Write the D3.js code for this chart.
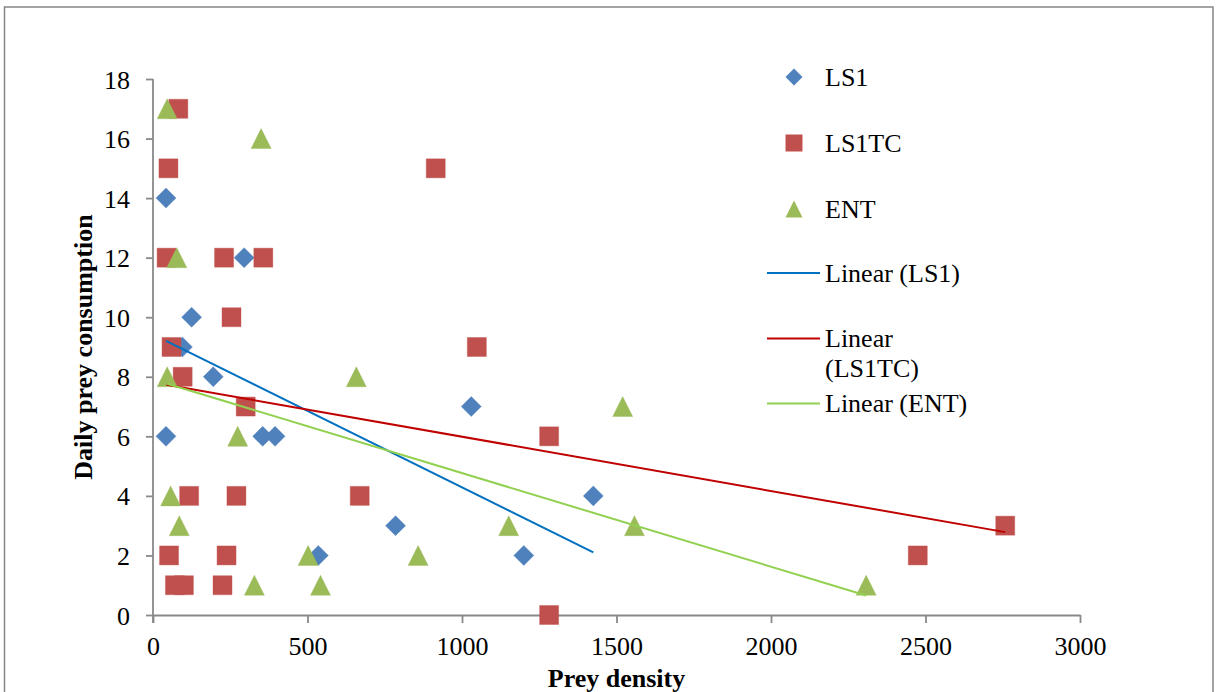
<!DOCTYPE html>
<html><head><meta charset="utf-8">
<script src="https://cdn.jsdelivr.net/npm/d3@7"></script>
<style>
html,body{margin:0;padding:0;background:#fff;}
svg{display:block;}
svg text{font-family:"Liberation Serif","Times New Roman",serif !important;fill:#000;}
</style></head>
<body>
<svg id="chart" width="1219" height="692"></svg>
<script>
// ---- data ----
const seriesNames = ["LS1", "LS1TC", "ENT"];
const ls1X = [42, 42, 125, 95, 195, 295, 355, 395, 535, 785, 1030, 1200, 1425];
const ls1Y = [14, 6, 10, 9, 8, 12, 6, 6, 2, 3, 7, 2, 4];
const ls1tcX = [82, 50, 44, 230, 357, 254, 60, 915, 1048, 96, 300, 117, 270, 52, 238, 71, 100, 225, 669, 1282, 1282, 2475, 2758];
const ls1tcY = [17, 15, 12, 12, 12, 10, 9, 15, 9, 8, 7, 4, 4, 2, 2, 1, 1, 1, 4, 6, 0, 2, 3];
const entX = [46, 350, 77, 46, 274, 57, 85, 328, 658, 502, 542, 858, 1151, 1520, 1558, 2308];
const entY = [17, 16, 12, 8, 6, 4, 3, 1, 8, 2, 1, 2, 3, 7, 3, 1];
const xTicks = [0, 500, 1000, 1500, 2000, 2500, 3000];
const yTicks = [0, 2, 4, 6, 8, 10, 12, 14, 16, 18];
const legendLabels = ["LS1", "LS1TC", "ENT", "Linear (LS1)", ["Linear", "(LS1TC)"], "Linear (ENT)"];

const markerColors = ["#4F81BD", "#C0504D", "#9BBB59"];
const trendColors = ["#0070C0", "#C00000", "#92D050"];
const shapes = ["diamond", "square", "triangle"];

const SERIF = '"Liberation Serif","Times New Roman",serif';
const svg = d3.select("#chart");
const FS = 26;
const axisColor = "#898989";

// chart frame
svg.append("rect").attr("x", 4.5).attr("y", 7).attr("width", 1208.5).attr("height", 700)
  .attr("fill", "#fff").attr("stroke", "#868686").attr("stroke-width", 1.5);

const x = d3.scaleLinear().domain([0, 3000]).range([153, 1080]);
const y = d3.scaleLinear().domain([0, 18]).range([615, 79]);

// axes
const gx = svg.append("g").attr("transform", `translate(0,${y(0)})`)
  .call(d3.axisBottom(x).tickValues(xTicks).tickSize(8).tickSizeOuter(0).tickPadding(0).tickFormat(d3.format("d")));
const gy = svg.append("g").attr("transform", `translate(${x(0)},0)`)
  .call(d3.axisLeft(y).tickValues(yTicks).tickSize(7).tickSizeOuter(0).tickPadding(0).tickFormat(d3.format("d")));
[gx, gy].forEach(g => {
  g.attr("font-family", null).attr("font-size", null);
  g.select(".domain").attr("stroke", axisColor).attr("stroke-width", 1.8);
  g.selectAll(".tick line").attr("stroke", axisColor).attr("stroke-width", 1.8);
  g.selectAll(".tick text").style("font-family", SERIF).style("font-size", FS + "px").attr("fill", "#000");
});
gx.selectAll(".tick text").attr("dy", null).attr("y", 40);
gy.selectAll(".tick text").attr("dy", null).attr("x", -23).attr("y", 9);
// extend y axis line below x axis like reference
gy.select(".domain").attr("d", `M0,${y(18)}V${y(0) + 8}`);

// axis titles
svg.append("text").attr("x", (x(0) + x(3000)) / 2).attr("y", 687).attr("text-anchor", "middle")
  .style("font-family", SERIF).style("font-size", FS + "px").style("font-weight", "bold").text("Prey density");
svg.append("text").attr("transform", `translate(92,${(y(0) + y(18)) / 2}) rotate(-90)`)
  .attr("text-anchor", "middle").style("font-family", SERIF).style("font-size", FS + "px")
  .style("font-weight", "bold").text("Daily prey consumption");

// marker paths
function markerPath(shape, s) {
  const h = s / 2;
  if (shape === "diamond") return `M0,${-h}L${h},0L0,${h}L${-h},0Z`;
  if (shape === "square") return `M${-h},${-h}H${h}V${h}H${-h}Z`;
  return `M0,${-h}L${h},${h}L${-h},${h}Z`;
}

const allSeries = [
  { xs: ls1X, ys: ls1Y },
  { xs: ls1tcX, ys: ls1tcY },
  { xs: entX, ys: entY }
];
const sizes = [20, 19, 20];

allSeries.forEach((s, i) => {
  const pts = s.xs.map((v, k) => [v, s.ys[k]]);
  svg.append("g").selectAll("path").data(pts).join("path")
    .attr("transform", d => `translate(${x(d[0])},${y(d[1])})`)
    .attr("d", markerPath(shapes[i], sizes[i]))
    .attr("fill", markerColors[i]).attr("stroke", markerColors[i]).attr("stroke-opacity", 0.5).attr("stroke-width", 0.8);
});

// linear trendlines (least squares)
function regression(xs, ys) {
  const n = xs.length;
  const mx = d3.mean(xs), my = d3.mean(ys);
  let sxy = 0, sxx = 0;
  for (let k = 0; k < n; k++) { sxy += (xs[k] - mx) * (ys[k] - my); sxx += (xs[k] - mx) ** 2; }
  const b = sxy / sxx, a = my - b * mx;
  const x0 = d3.min(xs), x1 = d3.max(xs);
  return [[x0, a + b * x0], [x1, a + b * x1]];
}
const line = d3.line().x(d => x(d[0])).y(d => y(d[1]));
allSeries.forEach((s, i) => {
  svg.append("path").attr("d", line(regression(s.xs, s.ys)))
    .attr("fill", "none").attr("stroke", trendColors[i]).attr("stroke-width", 2);
});

// legend
const legY = [77, 143, 209, 273, 338.5, 403.5];
const lg = svg.append("g");
legendLabels.forEach((lab, i) => {
  const cy = legY[i];
  if (i < 3) {
    lg.append("path").attr("transform", `translate(794,${cy})`).attr("d", markerPath(shapes[i], 17))
      .attr("fill", markerColors[i]);
  } else {
    lg.append("line").attr("x1", 767).attr("x2", 820).attr("y1", cy).attr("y2", cy)
      .attr("stroke", trendColors[i - 3]).attr("stroke-width", 2);
  }
  const t = lg.append("text").attr("x", 825).attr("y", cy + 8.5)
    .style("font-family", SERIF).style("font-size", FS + "px");
  if (Array.isArray(lab)) {
    lab.forEach((l, j) => t.append("tspan").attr("x", 825).attr("dy", j === 0 ? 0 : 30).text(l));
  } else t.text(lab);
});
</script>
</body></html>
